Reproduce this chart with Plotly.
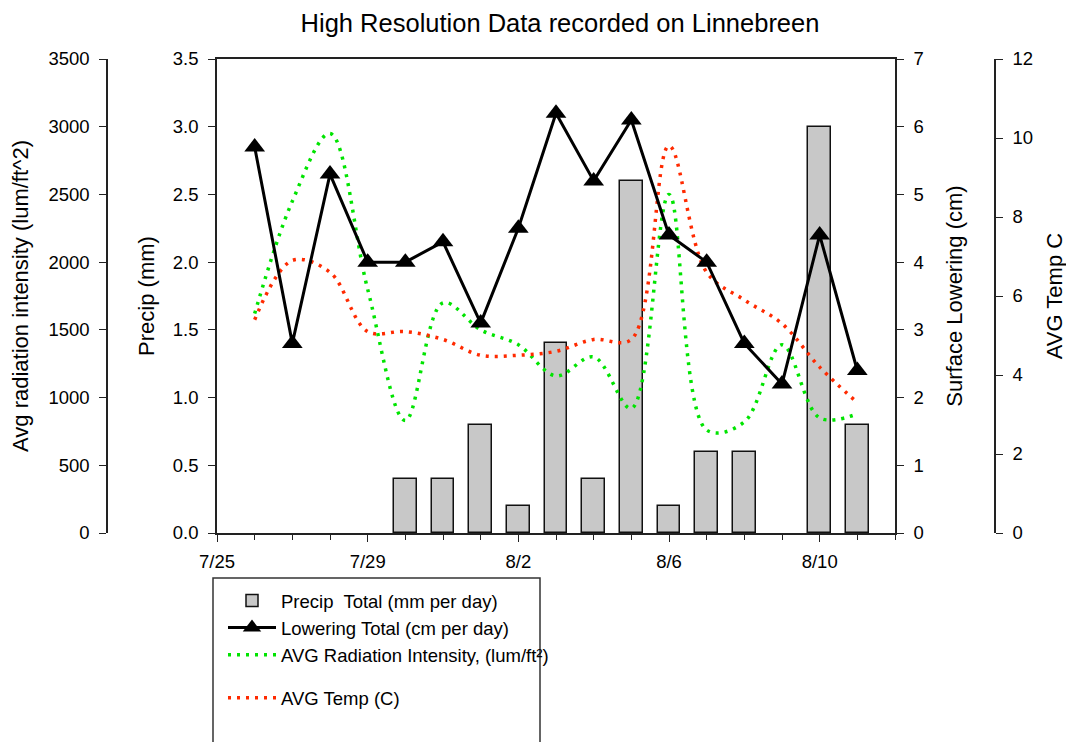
import plotly.graph_objects as go

# ---- data ----
dates = ["2009-07-26", "2009-07-27", "2009-07-28", "2009-07-29", "2009-07-30",
         "2009-07-31", "2009-08-01", "2009-08-02", "2009-08-03", "2009-08-04",
         "2009-08-05", "2009-08-06", "2009-08-07", "2009-08-08", "2009-08-09",
         "2009-08-10", "2009-08-11"]
precip_mm = [None, None, None, None, 0.4, 0.4, 0.8, 0.2, 1.4, 0.4,
             2.6, 0.2, 0.6, 0.6, None, 3.0, 0.8]
lowering_cm = [5.7, 2.8, 5.3, 4.0, 4.0, 4.3, 3.1, 4.5, 6.2, 5.2,
               6.1, 4.4, 4.0, 2.8, 2.2, 4.4, 2.4]
radiation = [1620, 2450, 2950, 1800, 830, 1700, 1500, 1390, 1160, 1300,
             920, 2500, 760, 820, 1390, 850, 880]
temp_c = [5.4, 6.9, 6.6, 5.1, 5.1, 4.9, 4.5, 4.5, 4.6, 4.9,
          4.9, 9.8, 6.6, 5.9, 5.3, 4.2, 3.3]

x_range = ["2009-07-25", "2009-08-12"]
x_ticks = ["2009-07-25", "2009-07-29", "2009-08-02", "2009-08-06", "2009-08-10"]
x_ticklabels = ["7/25", "7/29", "8/2", "8/6", "8/10"]

OFF = 8  # page body margin
W, H = 1074 - OFF, 742 - OFF
FONT = "Arial, Liberation Sans, sans-serif"
px = lambda v: (v - OFF) / W
py = lambda v: 1 - (v - OFF) / H

TICKFONT = dict(family=FONT, size=18.5, color="black")
TITLEFONT = dict(family=FONT, size=22, color="black")
DOT = "3px,6px"

fig = go.Figure()

fig.add_trace(go.Bar(
    x=dates, y=precip_mm, name="Precip  Total (mm per day)",
    marker=dict(color="#C8C8C8", line=dict(color="#111111", width=1.5)),
    width=0.6 * 86400000, yaxis="y", legendgroup="a", legendrank=1))

fig.add_trace(go.Scatter(
    x=dates, y=radiation, name="AVG Radiation Intensity, (lum/ft²)",
    mode="lines", line=dict(color="#00E400", width=3.5, dash=DOT, shape="spline", smoothing=1),
    yaxis="y2", legendgroup="a", legendrank=3))

fig.add_trace(go.Scatter(
    x=dates, y=temp_c, name="AVG Temp (C)",
    mode="lines", line=dict(color="#FF2A00", width=3.5, dash=DOT, shape="spline", smoothing=1),
    yaxis="y3", legendgroup="b", legendrank=4))

fig.add_trace(go.Scatter(
    x=dates, y=lowering_cm, name="Lowering Total (cm per day)",
    mode="lines+markers", line=dict(color="black", width=3),
    marker=dict(symbol="triangle-up", size=18, color="black"),
    yaxis="y4", legendgroup="a", legendrank=2))

axis_common = dict(showgrid=False, zeroline=False, showline=True, linecolor="#222222",
                   linewidth=1.5, ticks="outside", tickcolor="#222222", ticklen=7,
                   ticklabelstandoff=6, tickfont=TICKFONT, automargin=False)

xd = [px(217), px(895)]
yd = [py(533), py(59)]

fig.update_layout(
    width=W, height=H,
    margin=dict(l=0, r=0, t=0, b=0, pad=0),
    paper_bgcolor="white", plot_bgcolor="white",
    font=dict(family=FONT, color="black"),
    title=dict(text="High Resolution Data recorded on Linnebreen", x=px(560), xref="paper",
               xanchor="center", y=py(23), yanchor="middle",
               font=dict(family=FONT, size=25.5, color="black")),
    xaxis=dict(axis_common, domain=xd, type="date", range=x_range, tickvals=x_ticks,
               ticktext=x_ticklabels, ticklen=7, mirror=True, ticklabelstandoff=4,
               minor=dict(tickmode="linear", dtick=86400000, ticklen=5, ticks="outside",
                          tickcolor="#222222")),
    yaxis=dict(axis_common, domain=yd, range=[0, 3.5], dtick=0.5, tickformat=".1f",
               title=dict(text="Precip (mm)", font=TITLEFONT, standoff=12)),
    yaxis2=dict(axis_common, range=[0, 3500], dtick=500, overlaying="y", anchor="free",
                position=px(107), side="left",
                title=dict(text="Avg radiation intensity (lum/ft^2)", font=TITLEFONT,
                           standoff=16)),
    yaxis3=dict(axis_common, range=[0, 12], dtick=2, overlaying="y", anchor="free",
                position=px(995), side="right",
                title=dict(text="AVG Temp C", font=TITLEFONT, standoff=14)),
    yaxis4=dict(axis_common, range=[0, 7], dtick=1, overlaying="y", anchor="x", side="right",
                title=dict(text="Surface Lowering (cm)", font=TITLEFONT, standoff=24)),
    showlegend=True,
    legend=dict(x=px(223), y=py(582), xanchor="left", yanchor="top",
                bgcolor="rgba(0,0,0,0)", borderwidth=0, itemwidth=48,
                traceorder="grouped", tracegroupgap=16,
                font=dict(family=FONT, size=18.5, color="black")),
    shapes=[dict(type="rect", xref="paper", yref="paper", x0=px(213), x1=px(540),
                 y0=py(770), y1=py(578), line=dict(color="#333333", width=1.5),
                 fillcolor="rgba(0,0,0,0)", layer="above")],
    bargap=0,
)

fig.write_html("out.html")
